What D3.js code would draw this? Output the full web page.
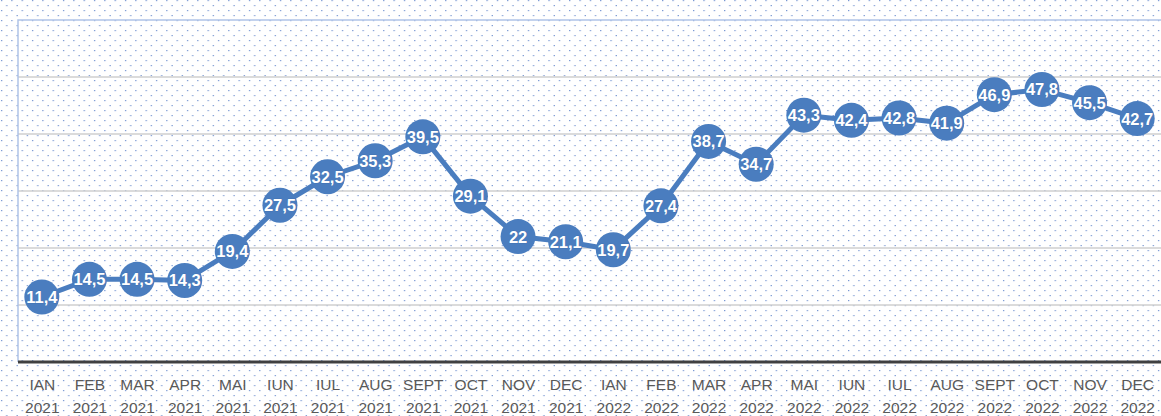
<!DOCTYPE html>
<html><head><meta charset="utf-8">
<script src="https://cdn.jsdelivr.net/npm/d3@7"></script>
<style>html,body{margin:0;padding:0;background:#fff;}svg{display:block;}</style>
</head><body>
<svg id="c" width="1161" height="416"></svg>
<script>
const months = ["IAN","FEB","MAR","APR","MAI","IUN","IUL","AUG","SEPT","OCT","NOV","DEC",
                "IAN","FEB","MAR","APR","MAI","IUN","IUL","AUG","SEPT","OCT","NOV","DEC"];
const years = ["2021","2021","2021","2021","2021","2021","2021","2021","2021","2021","2021","2021",
               "2022","2022","2022","2022","2022","2022","2022","2022","2022","2022","2022","2022"];
const values = [11.4,14.5,14.5,14.3,19.4,27.5,32.5,35.3,39.5,29.1,22,21.1,
                19.7,27.4,38.7,34.7,43.3,42.4,42.8,41.9,46.9,47.8,45.5,42.7];
const yTicks = [10,20,30,40,50];

(function(){
const svg = d3.select("#c");
const W = 1161, H = 416;
const mLeft = 18, mTop = 20, mBottom = 362;

const defs = svg.append("defs");
const pat = defs.append("pattern").attr("id","dots").attr("patternUnits","userSpaceOnUse")
  .attr("width",10.33).attr("height",10);
pat.append("rect").attr("x",1).attr("y",0).attr("width",1.2).attr("height",1.2).attr("fill","#6f90cf");
pat.append("rect").attr("x",6.2).attr("y",5).attr("width",1.2).attr("height",1.2).attr("fill","#6f90cf");
svg.append("rect").attr("width",W).attr("height",H).attr("fill","#fff");
svg.append("rect").attr("width",W).attr("height",H).attr("fill","url(#dots)");

const keys = months.map((m,i)=>i);
const x = d3.scalePoint().domain(keys).range([mLeft, W]).padding(0.5);
const y = d3.scaleLinear().domain([0,60]).range([mBottom, mTop]);

svg.append("g").selectAll("line").data(yTicks).join("line")
  .attr("x1",mLeft).attr("x2",W).attr("y1",d=>y(d)).attr("y2",d=>y(d))
  .attr("stroke","#cfcfcf").attr("stroke-width",1.5);

svg.append("path").attr("d",`M${mLeft},${mBottom} L${mLeft},${mTop} L${W},${mTop}`)
  .attr("fill","none").attr("stroke","#b0c4e8").attr("stroke-width",1.5);

const xAxis = svg.append("g").attr("transform",`translate(0,${mBottom})`)
  .call(d3.axisBottom(x).tickSize(0).tickFormat(i=>months[i]));
xAxis.select(".domain").attr("d",`M${mLeft},0H${W}`).attr("stroke","#404040").attr("stroke-width",3);
xAxis.selectAll(".tick text").each(function(i){
  const t = d3.select(this);
  t.text(null).attr("y",0).attr("dy",null)
   .attr("fill","#595959").attr("font-family","'Liberation Sans', Arial, sans-serif").attr("font-size",15.5);
  t.append("tspan").attr("x",0).attr("y",28).text(months[i]);
  t.append("tspan").attr("x",0).attr("y",51).text(years[i]);
});

const line = d3.line().x((d,i)=>x(i)).y(d=>y(d));
svg.append("path").datum(values).attr("d",line)
  .attr("fill","none").attr("stroke","#4a7dbf").attr("stroke-width",5).attr("stroke-linejoin","round");

const g = svg.append("g").selectAll("g").data(values).join("g")
  .attr("transform",(d,i)=>`translate(${x(i)},${y(d)})`);
g.append("circle").attr("r",17.5).attr("fill","#4a7dbf");
g.append("text").text(d=>String(d).replace(".",","))
  .attr("text-anchor","middle").attr("dy","0.36em")
  .attr("fill","#fff").attr("font-weight","bold")
  .attr("font-family","'Liberation Sans', Arial, sans-serif").attr("font-size",16.5)
  .attr("stroke","#3a6aa8").attr("stroke-width",0.4).attr("paint-order","stroke");
})();
</script>
</body></html>
